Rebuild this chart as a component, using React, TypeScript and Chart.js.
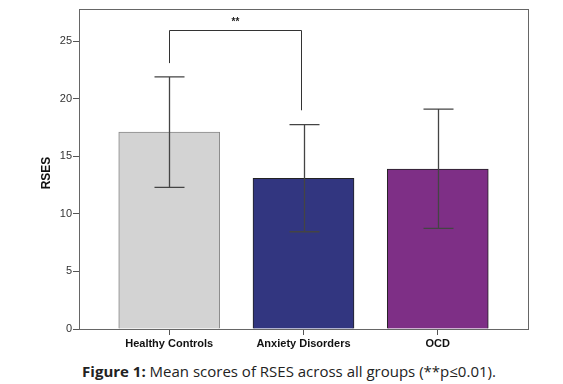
import React, { useEffect, useRef } from "react";
import { Chart, registerables } from "chart.js";
Chart.register(...registerables);

const categories = ["Healthy Controls", "Anxiety Disorders", "OCD"];
const means = [17.1, 13.1, 13.9];
const upper = [21.9, 17.75, 19.1];
const lower = [12.3, 8.45, 8.75];
const barColors = ["#d3d3d3", "#323680", "#7e2f86"];
const yTicks = [0, 5, 10, 15, 20, 25];
// significance bracket between group 0 and 1
const bracketTop = 25.95;
const bracketLeftEnd = 23.1;
const bracketRightEnd = 19.0;
const sigLabel = "**";

const overlay = {
  id: "overlay",
  afterDatasetsDraw(chart: any) {
    const { ctx, chartArea, scales } = chart;
    const xs = scales.x, ys = scales.y;
    ctx.save();
    // error bars
    ctx.strokeStyle = "#444";
    ctx.lineWidth = 1.3;
    for (let i = 0; i < means.length; i++) {
      const x = Math.round(xs.getPixelForValue(i)) + 0.5;
      const yu = ys.getPixelForValue(upper[i]);
      const yl = ys.getPixelForValue(lower[i]);
      ctx.beginPath();
      ctx.moveTo(x, yu);
      ctx.lineTo(x, yl);
      ctx.moveTo(x - 15, yu);
      ctx.lineTo(x + 15, yu);
      ctx.moveTo(x - 15, yl);
      ctx.lineTo(x + 15, yl);
      ctx.stroke();
    }
    // bracket
    const x0 = Math.round(xs.getPixelForValue(0)) + 0.5;
    const x1 = Math.round(xs.getPixelForValue(1)) - 2.5;
    const yt = Math.round(ys.getPixelForValue(bracketTop)) + 0.5;
    ctx.strokeStyle = "#333";
    ctx.lineWidth = 1;
    ctx.beginPath();
    ctx.moveTo(x0, ys.getPixelForValue(bracketLeftEnd));
    ctx.lineTo(x0, yt);
    ctx.lineTo(x1, yt);
    ctx.lineTo(x1, ys.getPixelForValue(bracketRightEnd));
    ctx.stroke();
    ctx.fillStyle = "#222";
    ctx.font = "bold 10px 'Liberation Sans', Arial";
    ctx.textAlign = "center";
    ctx.textBaseline = "middle";
    ctx.fillText(sigLabel, (x0 + x1) / 2, yt - 8);
    // frame
    ctx.strokeStyle = "#666";
    ctx.lineWidth = 1;
    ctx.strokeRect(
      Math.round(chartArea.left) + 0.5,
      Math.round(chartArea.top) + 0.5,
      Math.round(chartArea.right - chartArea.left),
      Math.round(chartArea.bottom - chartArea.top)
    );
    // y title
    ctx.save();
    ctx.translate(47, (chartArea.top + chartArea.bottom) / 2 + 4);
    ctx.rotate(-Math.PI / 2);
    ctx.fillStyle = "#111";
    ctx.font = "bold 12px 'Liberation Sans', Arial";
    ctx.textAlign = "center";
    ctx.textBaseline = "middle";
    ctx.fillText("RSES", 0, 0);
    ctx.restore();
    ctx.restore();
  },
};

export default function App() {
  const ref = useRef<HTMLCanvasElement>(null);
  useEffect(() => {
    const chart = new Chart(ref.current!, {
      type: "bar",
      data: {
        datasets: [
          {
            data: means.map((m, i) => ({ x: i, y: m })) as any,
            backgroundColor: barColors,
            borderColor: ["#888", "#222", "#222"],
            borderWidth: 1,
            barThickness: 101,
          },
        ],
      },
      options: {
        animation: false,
        responsive: false,
        events: [],
        layout: { padding: { top: 9, right: 35, left: 0, bottom: 0 } },
        plugins: { legend: { display: false }, tooltip: { enabled: false } },
        scales: {
          x: {
            type: "linear",
            offset: false,
            min: -0.672,
            max: 2.672,
            afterBuildTicks: (s: any) => {
              s.ticks = categories.map((_, i) => ({ value: i }));
            },
            afterFit: (s: any) => {
              s.height = 26;
            },
            ticks: {
              autoSkip: false,
              maxRotation: 0,
              padding: 2,
              color: "#111",
              font: { family: "'Liberation Sans', Arial", size: 11, weight: "bold" },
              callback: (v: any) => categories[v] ?? "",
            },
            grid: { display: true, offset: false, drawOnChartArea: false, tickLength: 6, color: "#555" },
            border: { display: true, color: "#555" },
          },
          y: {
            min: 0,
            max: 27.8,
            afterBuildTicks: (s: any) => {
              s.ticks = yTicks.map((v) => ({ value: v }));
            },
            afterFit: (s: any) => {
              s.width = 79;
            },
            ticks: {
              padding: 1,
              color: "#333",
              font: { family: "'Liberation Sans', Arial", size: 11 },
            },
            grid: { display: true, drawOnChartArea: false, tickLength: 6, color: "#555" },
            border: { display: true, color: "#555" },
          },
        },
      },
      plugins: [overlay],
    });
    return () => chart.destroy();
  }, []);
  return (
    <div style={{ position: "fixed", left: 0, top: 0, width: 563, height: 384, background: "#fff" }}>
      <canvas ref={ref} width={563} height={355} style={{ display: "block" }} />
      <div
        style={{
          position: "absolute",
          left: 0,
          width: 563,
          top: 361,
          textAlign: "center",
          fontFamily: "'Open Sans', sans-serif",
          fontSize: 15,
          color: "#222",
          whiteSpace: "nowrap",
          paddingLeft: 15,
          boxSizing: "border-box",
        }}
      >
        <b>Figure 1:</b> Mean scores of RSES across all groups (**p≤0.01).
      </div>
    </div>
  );
}
